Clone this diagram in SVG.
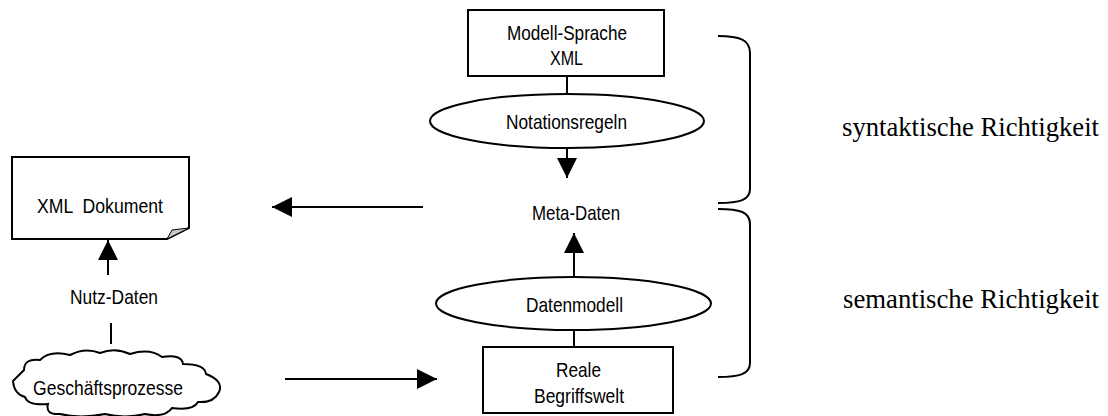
<svg xmlns="http://www.w3.org/2000/svg" width="1108" height="416" viewBox="0 0 1108 416">
  <style>
    .shape { fill: #ffffff; stroke: #000000; stroke-width: 2; }
    .line { fill: none; stroke: #000000; stroke-width: 2; }
    .lbl { font-family: "Liberation Sans", Arial, sans-serif; font-size: 21px; fill: #000000; text-anchor: middle; }
    .note { font-family: "Liberation Serif", "Times New Roman", serif; font-size: 26.5px; fill: #000000; }
    .brace { fill: none; stroke: #000000; stroke-width: 2; }
  </style>
  <defs>
    <marker id="arrow" viewBox="0 0 20 20" refX="20" refY="10" markerWidth="20" markerHeight="20" markerUnits="userSpaceOnUse" orient="auto">
      <path d="M0,0 L20,10 L0,20 Z" fill="#000000"/>
    </marker>
  </defs>

  <rect width="1108" height="416" fill="#ffffff"/>

  <!-- connectors -->
  <g id="connectors">
    <line class="line" x1="567" y1="76" x2="567" y2="94"/>
    <line class="line" x1="567" y1="148" x2="567" y2="178" marker-end="url(#arrow)"/>
    <line class="line" x1="574" y1="277" x2="574" y2="233" marker-end="url(#arrow)"/>
    <line class="line" x1="574" y1="330" x2="574" y2="347"/>
    <line class="line" x1="423" y1="207" x2="272" y2="207" marker-end="url(#arrow)"/>
    <line class="line" x1="108" y1="275" x2="108" y2="240" marker-end="url(#arrow)"/>
    <line class="line" x1="111" y1="323" x2="111" y2="344"/>
    <line class="line" x1="285" y1="379" x2="437" y2="379" marker-end="url(#arrow)"/>
  </g>

  <!-- language box -->
  <g id="modell-sprache">
    <rect class="shape" x="468" y="10" width="196" height="66"/>
    <text class="lbl" x="567" y="40" textLength="120" lengthAdjust="spacingAndGlyphs">Modell-Sprache</text>
    <text class="lbl" x="566.5" y="65" textLength="33" lengthAdjust="spacingAndGlyphs">XML</text>
  </g>

  <g id="notationsregeln">
    <ellipse class="shape" cx="567" cy="121" rx="137" ry="27"/>
    <text class="lbl" x="566.5" y="129" textLength="121" lengthAdjust="spacingAndGlyphs">Notationsregeln</text>
  </g>

  <g id="meta-daten">
    <text class="lbl" x="576" y="220" textLength="88" lengthAdjust="spacingAndGlyphs">Meta-Daten</text>
  </g>

  <g id="datenmodell">
    <ellipse class="shape" cx="573.5" cy="303.5" rx="137.5" ry="26.5"/>
    <text class="lbl" x="574.5" y="312" textLength="97" lengthAdjust="spacingAndGlyphs">Datenmodell</text>
  </g>

  <g id="reale-begriffswelt">
    <rect class="shape" x="483" y="347" width="190" height="66"/>
    <text class="lbl" x="578.5" y="377" textLength="45" lengthAdjust="spacingAndGlyphs">Reale</text>
    <text class="lbl" x="579" y="403" textLength="90" lengthAdjust="spacingAndGlyphs">Begriffswelt</text>
  </g>

  <!-- document with folded corner -->
  <g id="xml-dokument">
    <path class="shape" d="M12,157 H189 V228 L167,239 H12 Z"/>
    <path d="M167,239 L189,228 L172,230 Z" fill="#c8c8c8" stroke="#000000" stroke-width="1"/>
    <text class="lbl" x="100" y="213" textLength="126" lengthAdjust="spacingAndGlyphs" xml:space="preserve">XML  Dokument</text>
  </g>

  <g id="nutz-daten">
    <text class="lbl" x="114" y="304" textLength="88" lengthAdjust="spacingAndGlyphs">Nutz-Daten</text>
  </g>

  <!-- cloud -->
  <g id="geschaeftsprozesse">
    <path class="shape" stroke-width="1.5" d="M13,381 L24,370 Q24,358 40,360 Q50,350 70,355 Q85,347 100,353 Q115,347 130,354 Q150,348 162,357 Q182,354 183,364 Q205,364 206,374 Q224,381 219,392 Q214,403 198,402 Q193,411 172,408 Q165,418 145,414 Q125,419 105,414 Q80,419 60,414 Q45,415 48,404 Q28,406 25,397 Q14,394 13,381 Z"/>
    <text class="lbl" x="108" y="395" textLength="150" lengthAdjust="spacingAndGlyphs">Geschäftsprozesse</text>
  </g>

  <!-- braces and their labels -->
  <g id="syntaktisch">
    <path class="brace" d="M718,36 C740,36 750,40 750,53 V189 C750,200 740,203 718,203"/>
    <text class="note" x="842" y="136" textLength="257" lengthAdjust="spacingAndGlyphs">syntaktische Richtigkeit</text>
  </g>
  <g id="semantisch">
    <path class="brace" d="M718,209 C740,209 750,212 750,224 V363 C750,374 740,377 718,377"/>
    <text class="note" x="843" y="308" textLength="256" lengthAdjust="spacingAndGlyphs">semantische Richtigkeit</text>
  </g>
</svg>
